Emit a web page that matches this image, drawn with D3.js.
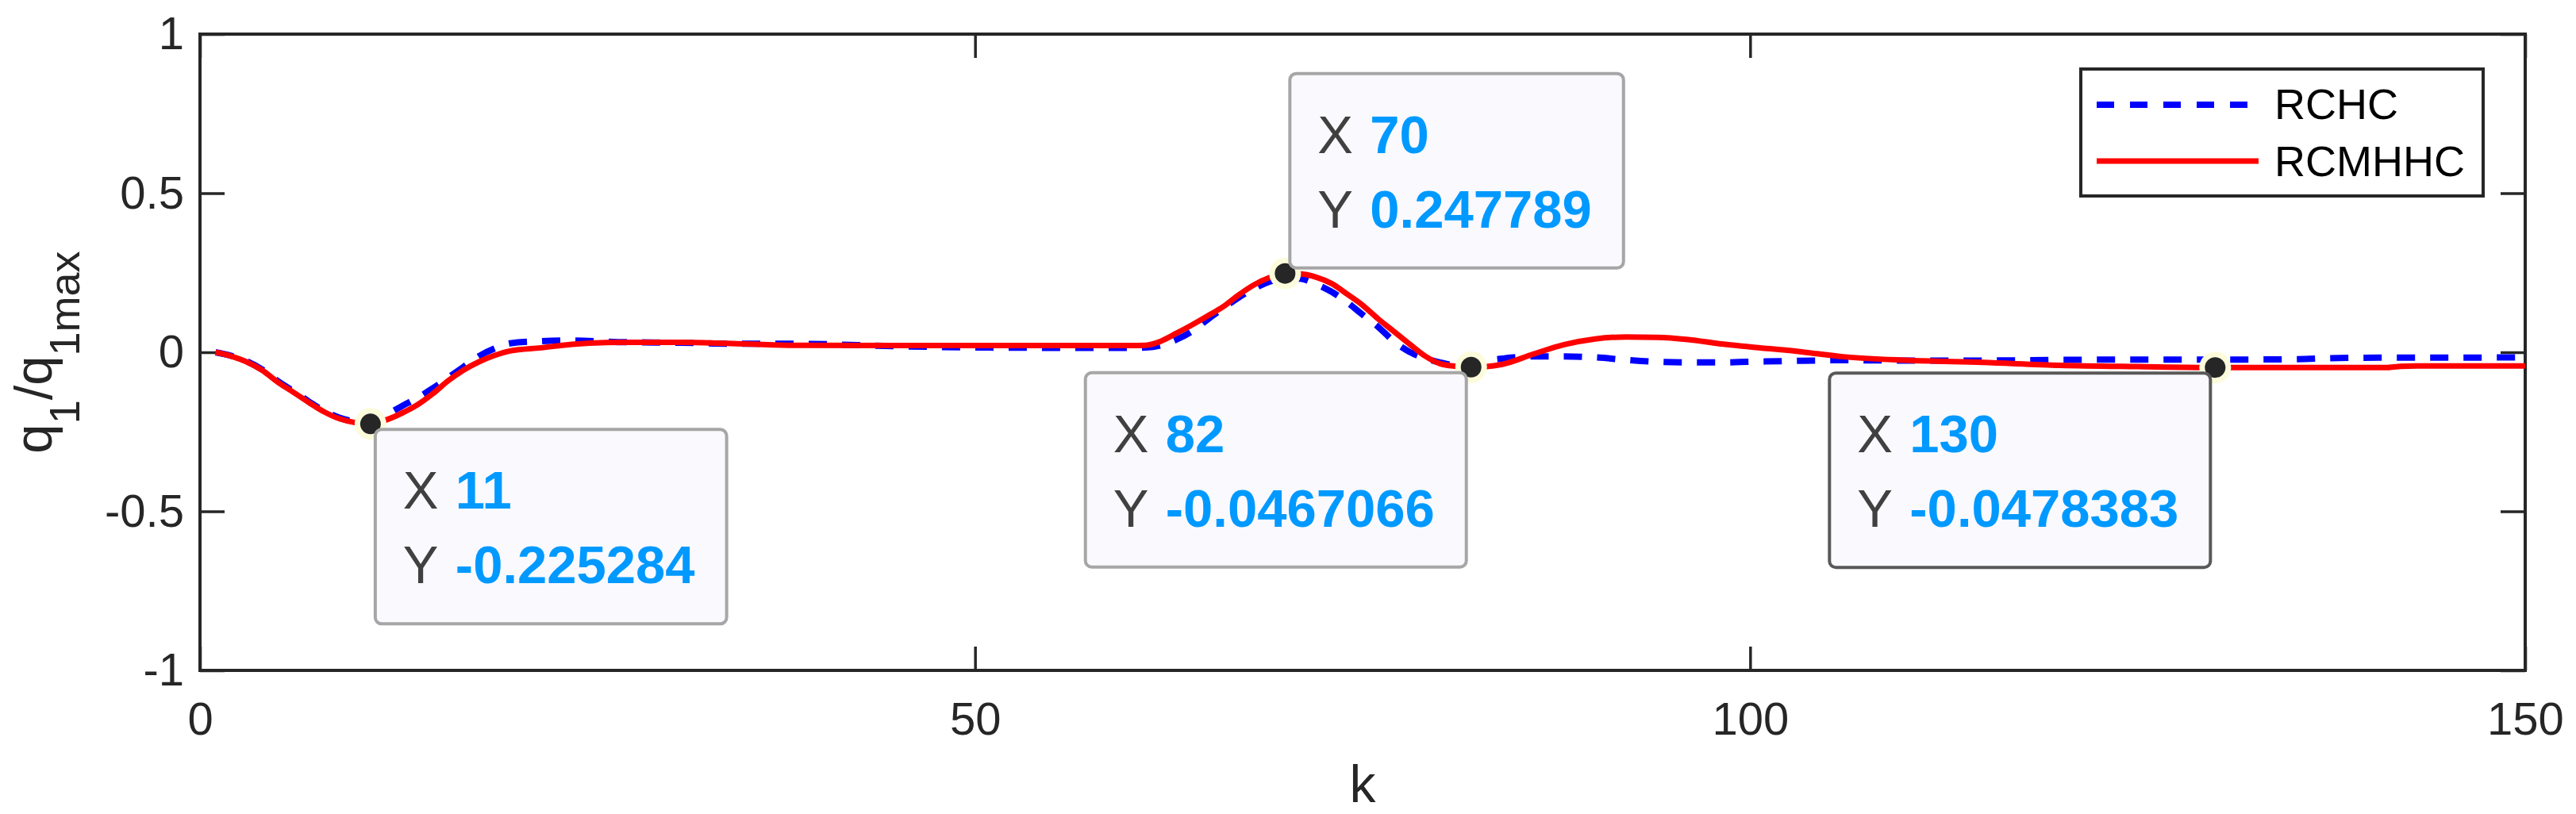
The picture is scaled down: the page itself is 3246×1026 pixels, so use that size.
<!DOCTYPE html>
<html>
<head>
<meta charset="utf-8">
<script src="https://cdn.jsdelivr.net/npm/d3@7"></script>
<style>
  body { margin: 0; background: #fff; }
  svg { display: block; font-family: 'Liberation Sans', Arial, Helvetica, sans-serif; }
</style>
</head>
<body>
<svg id="chart" width="3246" height="1026"></svg>
<script>
// sample steps k (shared by both series)
const kSteps = [1, 2, 3, 4, 5, 6, 7, 8, 9, 10, 11, 12, 13, 14, 15, 16, 17, 18, 19, 20,
  22, 24, 27, 31, 34, 38, 45, 50, 55, 60,
  61, 62, 63, 64, 65, 66, 67, 68, 69, 70, 71, 72, 73, 74, 75, 76, 77, 78, 79, 80, 81, 82, 83, 84,
  86, 88, 90, 92, 94, 96, 98, 100, 103, 106, 110, 115, 120, 125, 130, 135, 138, 141, 142, 143, 150]

// q1/q1max, RCHC (blue dashed)
const rchc = [0, -0.011, -0.028, -0.054, -0.09, -0.122, -0.154, -0.184, -0.206, -0.218, -0.222, -0.197, -0.17, -0.144, -0.114, -0.08, -0.046, -0.012, 0.012, 0.028,
  0.035, 0.037, 0.032, 0.03, 0.027, 0.027, 0.019, 0.015, 0.014, 0.014,
  0.015, 0.022, 0.04, 0.066, 0.103, 0.138, 0.172, 0.2, 0.222, 0.233, 0.231, 0.214, 0.19, 0.157, 0.118, 0.08, 0.035, 0.002, -0.018, -0.032, -0.04, -0.038, -0.026, -0.02,
  -0.013, -0.013, -0.016, -0.024, -0.03, -0.032, -0.032, -0.03, -0.027, -0.025, -0.026, -0.026, -0.024, -0.023, -0.023, -0.022, -0.018, -0.017, -0.017, -0.017, -0.016]

// q1/q1max, RCMHHC (red solid)
const rcmhhc = [0, -0.012, -0.03, -0.056, -0.093, -0.125, -0.157, -0.187, -0.209, -0.221, -0.2253, -0.213, -0.192, -0.166, -0.131, -0.09, -0.056, -0.03, -0.01, 0.004,
  0.014, 0.025, 0.031, 0.031, 0.028, 0.022, 0.021, 0.021, 0.021, 0.021,
  0.022, 0.035, 0.06, 0.086, 0.114, 0.143, 0.18, 0.212, 0.235, 0.2478, 0.246, 0.236, 0.216, 0.183, 0.148, 0.105, 0.066, 0.027, -0.011, -0.036, -0.044, -0.0467, -0.045, -0.038,
  -0.006, 0.024, 0.042, 0.048, 0.047, 0.04, 0.027, 0.017, 0.003, -0.014, -0.025, -0.032, -0.041, -0.045, -0.0478, -0.0478, -0.048, -0.048, -0.044, -0.043, -0.043]

const xTicks = [0, 50, 100, 150]
const yTicks = [-1, -0.5, 0, 0.5, 1]

// data tips
const tipK = [11, 70, 82, 130]
const tipY = [-0.225284, 0.247789, -0.0467066, -0.0478383]
const tipSide = ['br', 'tr', 'bl', 'bl']

const seriesNames = ['RCHC', 'RCMHHC']

let svg = d3.select('#chart')
let margin = {top: 43, right: 64, bottom: 181, left: 252}
let width = 3246 - margin.left - margin.right
let height = 1026 - margin.top - margin.bottom
let ink = '#262626'

let x = d3.scaleLinear().domain([0, 150]).range([0, width])
let y = d3.scaleLinear().domain([-1, 1]).range([height, 0])

let g = svg.append('g')
  .attr('transform', 'translate(' + margin.left + ',' + margin.top + ')')

// axes, ticks pointing inward
let styleAxis = function (sel) {
  sel.select('.domain').remove()
  sel.selectAll('.tick line').attr('stroke', ink).attr('stroke-width', 3.5)
  sel.selectAll('.tick text').attr('fill', ink).attr('font-size', 58)
    .attr('font-family', "'Liberation Sans', Arial, sans-serif")
}

g.append('g')
  .attr('transform', 'translate(0,' + height + ')')
  .call(d3.axisBottom(x).tickValues(xTicks).tickSizeInner(-30).tickSizeOuter(0).tickPadding(40))
  .call(styleAxis)

g.append('g')
  .call(d3.axisTop(x).tickValues(xTicks).tickSizeInner(-30).tickSizeOuter(0).tickFormat(''))
  .call(styleAxis)

g.append('g')
  .call(d3.axisLeft(y).tickValues(yTicks).tickSizeInner(-31).tickSizeOuter(0).tickPadding(20)
    .tickFormat(d3.format('')))
  .call(styleAxis)

g.append('g')
  .attr('transform', 'translate(' + width + ',0)')
  .call(d3.axisRight(y).tickValues(yTicks).tickSizeInner(-31).tickSizeOuter(0).tickFormat(''))
  .call(styleAxis)

g.selectAll('.tick text').text(function () { return this.textContent.replace('−', '-') })

// frame
g.append('rect')
  .attr('width', width)
  .attr('height', height)
  .attr('fill', 'none')
  .attr('stroke', ink)
  .attr('stroke-width', 4)

// lines
let line = function (vals) {
  return d3.line()
    .curve(d3.curveMonotoneX)
    .x((d, i) => x(kSteps[i]))
    .y((d) => y(d))(vals)
}

g.append('path')
  .attr('d', line(rchc))
  .attr('fill', 'none')
  .attr('stroke', '#0000ff')
  .attr('stroke-width', 8)
  .attr('stroke-dasharray', '23,19')

g.append('path')
  .attr('d', line(rcmhhc))
  .attr('fill', 'none')
  .attr('stroke', '#ff0000')
  .attr('stroke-width', 7)

// axis labels
svg.append('text')
  .attr('x', margin.left + width / 2)
  .attr('y', 1011)
  .attr('text-anchor', 'middle')
  .attr('font-size', 66)
  .attr('fill', ink)
  .text('k')

let ylab = svg.append('text')
  .attr('transform', 'translate(65,' + (margin.top + height / 2) + ') rotate(-90)')
  .attr('text-anchor', 'middle')
  .attr('fill', ink)
  .attr('font-size', 67)
ylab.append('tspan').text('q')
ylab.append('tspan').attr('font-size', 54).attr('dy', 35).text('1')
ylab.append('tspan').attr('dy', -35).text('/q')
ylab.append('tspan').attr('font-size', 54).attr('dy', 35).text('1max')

// legend
let legend = svg.append('g').attr('transform', 'translate(2622,87)')
legend.append('rect')
  .attr('width', 507)
  .attr('height', 160)
  .attr('fill', '#fff')
  .attr('stroke', ink)
  .attr('stroke-width', 4)

legend.append('line')
  .attr('x1', 20).attr('x2', 224).attr('y1', 45).attr('y2', 45)
  .attr('stroke', '#0000ff').attr('stroke-width', 8).attr('stroke-dasharray', '22,20')
legend.append('line')
  .attr('x1', 20).attr('x2', 224).attr('y1', 116).attr('y2', 116)
  .attr('stroke', '#ff0000').attr('stroke-width', 7)

legend.selectAll('text.lab')
  .data(seriesNames)
  .enter().append('text')
  .attr('class', 'lab')
  .attr('x', 244)
  .attr('y', (d, i) => 63 + i * 72)
  .attr('font-size', 54)
  .attr('fill', '#000')
  .text((d) => d)

// data tips
tipK.forEach(function (k, i) {
  let mx = x(k)
  let my = y(tipY[i])
  let tip = g.append('g')

  tip.append('circle').attr('cx', mx).attr('cy', my).attr('r', 20).attr('fill', '#fcfcdc')
  tip.append('circle').attr('cx', mx).attr('cy', my).attr('r', 13).attr('fill', ink)

  let box = tip.append('g')
  let rect = box.append('rect')
  let rows = [['X', String(k)], ['Y', String(tipY[i])]]
  let maxW = 0
  rows.forEach(function (r, j) {
    box.append('text')
      .attr('x', 35).attr('y', 100 + j * 94)
      .attr('font-size', 67).attr('fill', '#404040')
      .text(r[0])
    let v = box.append('text')
      .attr('x', 101).attr('y', 100 + j * 94)
      .attr('font-size', 67).attr('font-weight', 'bold').attr('fill', '#0099ff')
      .text(r[1])
    maxW = Math.max(maxW, v.node().getComputedTextLength())
  })
  let bw = 101 + maxW + 40
  let bh = 245
  rect.attr('width', bw).attr('height', bh).attr('rx', 8)
    .attr('fill', '#f9f9fe')
    .attr('stroke', i === 3 ? '#595959' : '#a6a6a6')
    .attr('stroke-width', 4)

  let side = tipSide[i]
  let bx = side[1] === 'r' ? mx + 6 : mx - 6 - bw
  let by = side[0] === 'b' ? my + 7 : my - 7 - bh
  box.attr('transform', 'translate(' + bx + ',' + by + ')')
})
</script>
</body>
</html>
